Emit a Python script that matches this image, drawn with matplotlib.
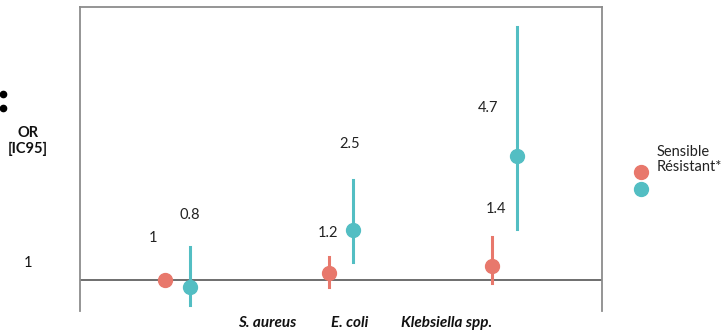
import matplotlib
matplotlib.use('Agg')
import matplotlib.pyplot as plt
from matplotlib.lines import Line2D

plt.rcParams['font.family'] = ['Lato', 'DejaVu Sans']

# data
species = ['S. aureus', 'E. coli', 'Klebsiella spp.']
groups = ['Sensible', 'Résistant*']
or_sens = [1.0, 1.2, 1.4]
ci_low_sens = [1.0, 0.79, 0.91]
ci_high_sens = [1.0, 1.69, 2.28]
or_res = [0.8, 2.5, 4.7]
ci_low_res = [0.25, 1.54, 2.52]
ci_high_res = [1.98, 3.98, 8.55]
label_text = ['1', '0.8', '1.2', '2.5', '1.4', '4.7']
# label placement (data coords), as in the original slide
label_xy = [(0.85, 2.24), (1.07, 2.94), (1.92, 2.40), (2.05, 5.06), (2.95, 3.12), (2.90, 6.13)]

RED = '#E8786C'
TEAL = '#53BEC3'
FS = 10.5

fig = plt.figure(figsize=(7.25, 3.3), dpi=100)
ax = fig.add_axes([80 / 725, 1 - 311 / 330, 522 / 725, 304 / 330])

x = [1, 2, 3]
off = 0.076
for i in range(len(species)):
    xs = x[i] - off
    xr = x[i] + off
    ax.plot([xs, xs], [ci_low_sens[i], ci_high_sens[i]], color=RED, lw=2.2, zorder=3)
    ax.plot([xr, xr], [ci_low_res[i], ci_high_res[i]], color=TEAL, lw=2.2, zorder=3)
    ax.plot(xs, or_sens[i], 'o', color=RED, ms=10, zorder=4)
    ax.plot(xr, or_res[i], 'o', color=TEAL, ms=10, zorder=4)

ax.axhline(1, color='#555555', lw=1.2, zorder=2)

for t, (lx, ly) in zip(label_text, label_xy):
    ax.text(lx, ly, t, ha='center', va='center', fontsize=FS, color='#222222')

ax.set_xlim(0.4, 3.6)
ax.set_ylim(0.07, 9.15)
ax.set_xticks([])
ax.set_yticks([])
for s in ['left', 'right', 'top']:
    ax.spines[s].set_color('#8c8c8c')
    ax.spines[s].set_linewidth(1.3)
ax.spines['bottom'].set_visible(False)

# category labels under the plot
for name, px in zip(species, [267, 350, 447]):
    fig.text(px / 725, 1 - 323 / 330, name, ha='center', va='center',
             fontsize=11, fontweight='bold', fontstyle='italic', color='#111111')

# y label and side text
fig.text(28 / 725, 1 - 141 / 330, 'OR\n[IC95]', ha='center', va='center',
         fontsize=FS, fontweight='bold', color='#111111', linespacing=1.15)
fig.text(28 / 725, 1 - 263 / 330, '1', ha='center', va='center', fontsize=FS, color='#111111')
for py in [94, 108]:
    fig.add_artist(Line2D([3 / 725], [1 - py / 330], marker='o', ms=4.5, color='black',
                          transform=fig.transFigure))

# legend (drawn by hand to keep the slide layout)
for py, c in zip([172, 189], [RED, TEAL]):
    fig.add_artist(Line2D([641 / 725], [1 - py / 330], marker='o', ms=10, color=c,
                          transform=fig.transFigure))
for py, g in zip([152, 167], groups):
    fig.text(657 / 725, 1 - py / 330, g, ha='left', va='center', fontsize=FS, color='#222222')

fig.savefig('out.png', dpi=100)
